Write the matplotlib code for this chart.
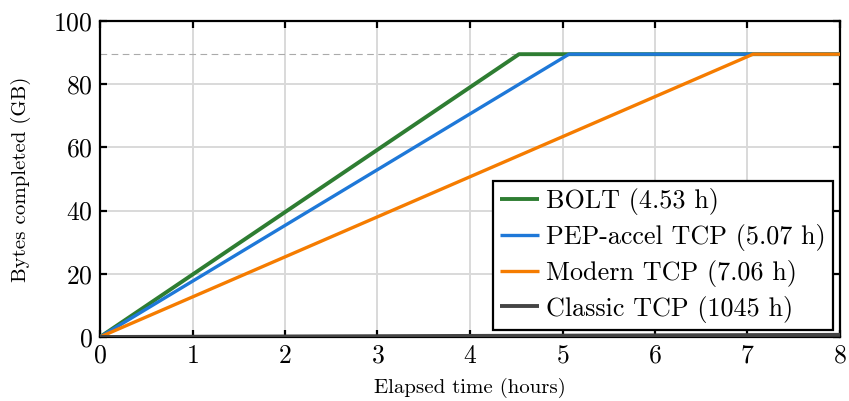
import matplotlib
matplotlib.use("Agg")
import matplotlib.pyplot as plt
import numpy as np

plt.rcParams['font.family'] = ['cmr10', 'DejaVu Serif']
plt.rcParams['axes.formatter.use_mathtext'] = True

total_gb = 89.5
series_names = ["BOLT (4.53 h)", "PEP-accel TCP (5.07 h)", "Modern TCP (7.06 h)", "Classic TCP (1045 h)"]
finish_hours = [4.53, 5.07, 7.06, 1045.0]
colors = ["#2e7d32", "#1e78d8", "#f57c00", "#444444"]
widths = [2.8, 2.4, 2.4, 2.8]
x_end = 8.0

fig = plt.figure(figsize=(8.49, 4.01), dpi=100)
ax = fig.add_axes([100/849, 1-337/401, 740/849, 316/401])

ax.axhline(total_gb, color="#aaaaaa", lw=0.8, ls=(0, (6, 4)), zorder=1)

for i in range(len(series_names)):
    t = finish_hours[i]
    if t < x_end:
        xs = [0, t, x_end]
        ys = [0, total_gb, total_gb]
    else:
        xs = [0, x_end]
        ys = [0, total_gb * x_end / t]
    ax.plot(xs, ys, color=colors[i], lw=widths[i], label=series_names[i],
            zorder=3 if i < 3 else 4, solid_capstyle='butt')

ax.set_xlim(0, 8)
ax.set_ylim(0, 100)
ax.set_xticks(range(0, 9))
ax.set_yticks(range(0, 101, 20))
ax.grid(True, color="#d9d9d9", lw=1.4, zorder=0)
ax.set_axisbelow(True)
ax.tick_params(direction='in', top=True, right=True, length=5, width=1.6, labelsize=18.5, pad=5)
for s in ax.spines.values():
    s.set_linewidth(1.6)

ax.set_xlabel("Elapsed time (hours)", fontsize=15, labelpad=7)
ax.set_ylabel("Bytes completed (GB)", fontsize=15, labelpad=16)

leg = ax.legend(loc='lower right', fontsize=18.8, frameon=True, fancybox=False,
                edgecolor='black', framealpha=1, borderpad=0.28, labelspacing=0.34,
                handlelength=1.5, handletextpad=0.25, borderaxespad=0.27)
leg.get_frame().set_linewidth(1.6)

fig.savefig("out.png", dpi=100)
